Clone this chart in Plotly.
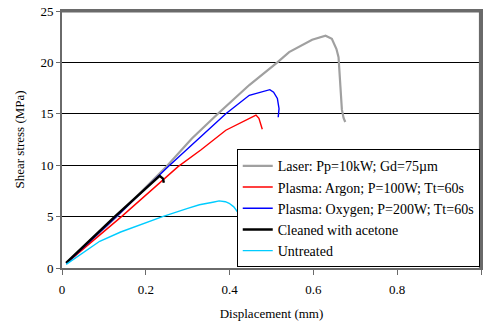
import plotly.graph_objects as go

# ---- data ----
laser_x = [0.01, 0.13, 0.25, 0.31, 0.372, 0.447, 0.514, 0.542, 0.597, 0.629, 0.644, 0.655, 0.660, 0.664, 0.668, 0.672, 0.676]
laser_y = [0.45, 5.0, 9.9, 12.6, 15.0, 17.8, 20.0, 21.0, 22.2, 22.6, 22.3, 21.3, 20.5, 17.6, 15.4, 14.6, 14.2]

argon_x = [0.01, 0.142, 0.277, 0.332, 0.391, 0.43, 0.463, 0.470, 0.475, 0.478]
argon_y = [0.45, 5.0, 9.86, 11.5, 13.4, 14.2, 14.88, 14.56, 14.0, 13.5]

oxygen_x = [0.01, 0.13, 0.253, 0.297, 0.391, 0.447, 0.48, 0.496, 0.505, 0.514, 0.518, 0.516]
oxygen_y = [0.45, 5.0, 9.86, 11.5, 15.0, 16.8, 17.2, 17.35, 17.1, 16.5, 15.5, 14.66]

acetone_x = [0.01, 0.126, 0.233, 0.241, 0.243]
acetone_y = [0.5, 5.0, 8.96, 8.7, 8.3]

untreated_x = [0.01, 0.05, 0.09, 0.14, 0.186, 0.24, 0.30, 0.328, 0.36, 0.375, 0.39, 0.399, 0.41, 0.421]
untreated_y = [0.35, 1.5, 2.6, 3.5, 4.2, 5.0, 5.8, 6.15, 6.4, 6.53, 6.45, 6.3, 5.95, 5.34]

names = ["Laser: Pp=10kW; Gd=75\u00b5m",
         "Plasma: Argon; P=100W; Tt=60s",
         "Plasma: Oxygen; P=200W; Tt=60s",
         "Cleaned with acetone",
         "Untreated"]

x_ticks = [0, 0.2, 0.4, 0.6, 0.8, 1]
x_tick_labels = ["0", "0.2", "0.4", "0.6", "0.8", "1"]
y_ticks = [0, 5, 10, 15, 20, 25]

series = [
    (laser_x, laser_y, "#A0A0A0", 2.2),
    (argon_x, argon_y, "#FF0000", 1.4),
    (oxygen_x, oxygen_y, "#0000FF", 1.4),
    (acetone_x, acetone_y, "#000000", 2.4),
    (untreated_x, untreated_y, "#00CCFF", 1.4),
]

fig = go.Figure()
for (xs, ys, col, w), nm in zip(series, names):
    fig.add_trace(go.Scatter(x=xs, y=ys, mode="lines", name=nm,
                             line=dict(color=col, width=w)))

FF = "Times New Roman, Liberation Serif, serif"
AX = "#6A6A6A"
fig.update_layout(
    width=484, height=327,
    margin=dict(l=62, r=3, t=11, b=59, autoexpand=False),
    paper_bgcolor="white", plot_bgcolor="white",
    font=dict(family=FF, size=13, color="black"),
    showlegend=True,
    legend=dict(x=0.997, y=0.462, xanchor="right", yanchor="top",
                bgcolor="white", bordercolor="black", borderwidth=1,
                font=dict(family=FF, size=14, color="black"),
                itemwidth=30, tracegroupgap=0),
    shapes=[
        dict(type="line", xref="paper", yref="paper", x0=0, x1=1, y0=0.999, y1=0.999,
             line=dict(color=AX, width=2.5), layer="above"),
        dict(type="line", xref="paper", yref="paper", x0=0.998, x1=0.998, y0=0, y1=1,
             line=dict(color=AX, width=2.5), layer="above"),
    ],
)
fig.update_xaxes(range=[0, 1], tickvals=x_ticks, ticktext=x_tick_labels,
                 showgrid=False, zeroline=False, automargin=False,
                 showline=True, linecolor=AX, linewidth=2, mirror=True,
                 ticks="outside", ticklen=5, tickcolor=AX, tickwidth=1,
                 ticklabelstandoff=3,
                 title=dict(text="Displacement (mm)", standoff=13,
                            font=dict(family=FF, size=13)),
                 tickfont=dict(family=FF, size=13))
fig.update_yaxes(range=[0, 25], tickvals=y_ticks,
                 showgrid=True, gridcolor="black", gridwidth=1, zeroline=False,
                 automargin=False,
                 showline=True, linecolor=AX, linewidth=2, mirror=True,
                 ticks="outside", ticklen=4, tickcolor=AX, tickwidth=1,
                 title=dict(text="Shear stress (MPa)", standoff=13,
                            font=dict(family=FF, size=13)),
                 tickfont=dict(family=FF, size=13))

fig.write_html("out.html",
               config={"displayModeBar": False},
               post_script="document.body.style.margin='0';"
                           "document.body.style.overflow='hidden';")
